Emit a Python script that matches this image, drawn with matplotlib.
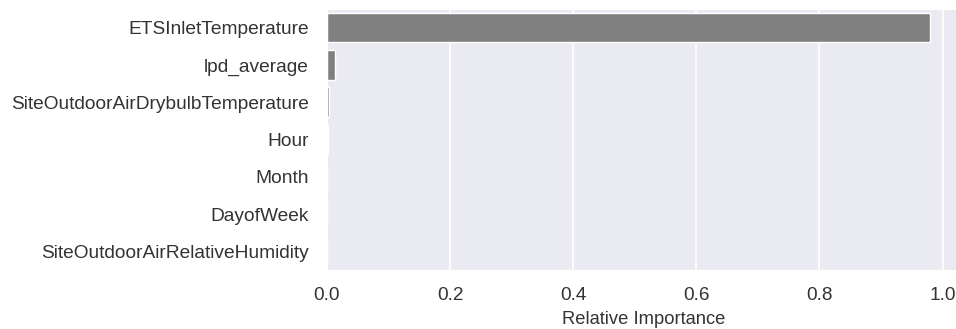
import matplotlib
matplotlib.use("Agg")
import matplotlib.pyplot as plt
import seaborn as sns

features = [
    "ETSInletTemperature",
    "lpd_average",
    "SiteOutdoorAirDrybulbTemperature",
    "Hour",
    "Month",
    "DayofWeek",
    "SiteOutdoorAirRelativeHumidity",
]
importance = [0.979, 0.013, 0.003, 0.0015, 0.0008, 0.0005, 0.0003]
xticks = [0.0, 0.2, 0.4, 0.6, 0.8, 1.0]

sns.set_style("darkgrid")
plt.rcParams["font.family"] = ["Liberation Sans", "DejaVu Sans"]

text_color = "#333333"

fig = plt.figure(figsize=(9.56, 3.29), dpi=100)
ax = fig.add_axes([0.342, 0.179, 0.662, 0.794])

sns.barplot(x=importance, y=features, color="#808080", saturation=1,
            edgecolor="white", linewidth=1, ax=ax, orient="h")
ax.grid(axis="y", visible=False)
ax.grid(axis="x", color="white", linewidth=1.2)
ax.set_xticks(xticks)
ax.set_xticklabels([f"{t:.1f}" for t in xticks])
ax.tick_params(axis="y", labelsize=13.8, pad=13, length=0, colors=text_color)
ax.tick_params(axis="x", labelsize=13.7, pad=12.5, length=0, colors=text_color)
ax.set_xlabel("Relative Importance", fontsize=13.2, color=text_color, labelpad=5)
ax.set_ylabel("")

fig.savefig("out.png", dpi=100)
